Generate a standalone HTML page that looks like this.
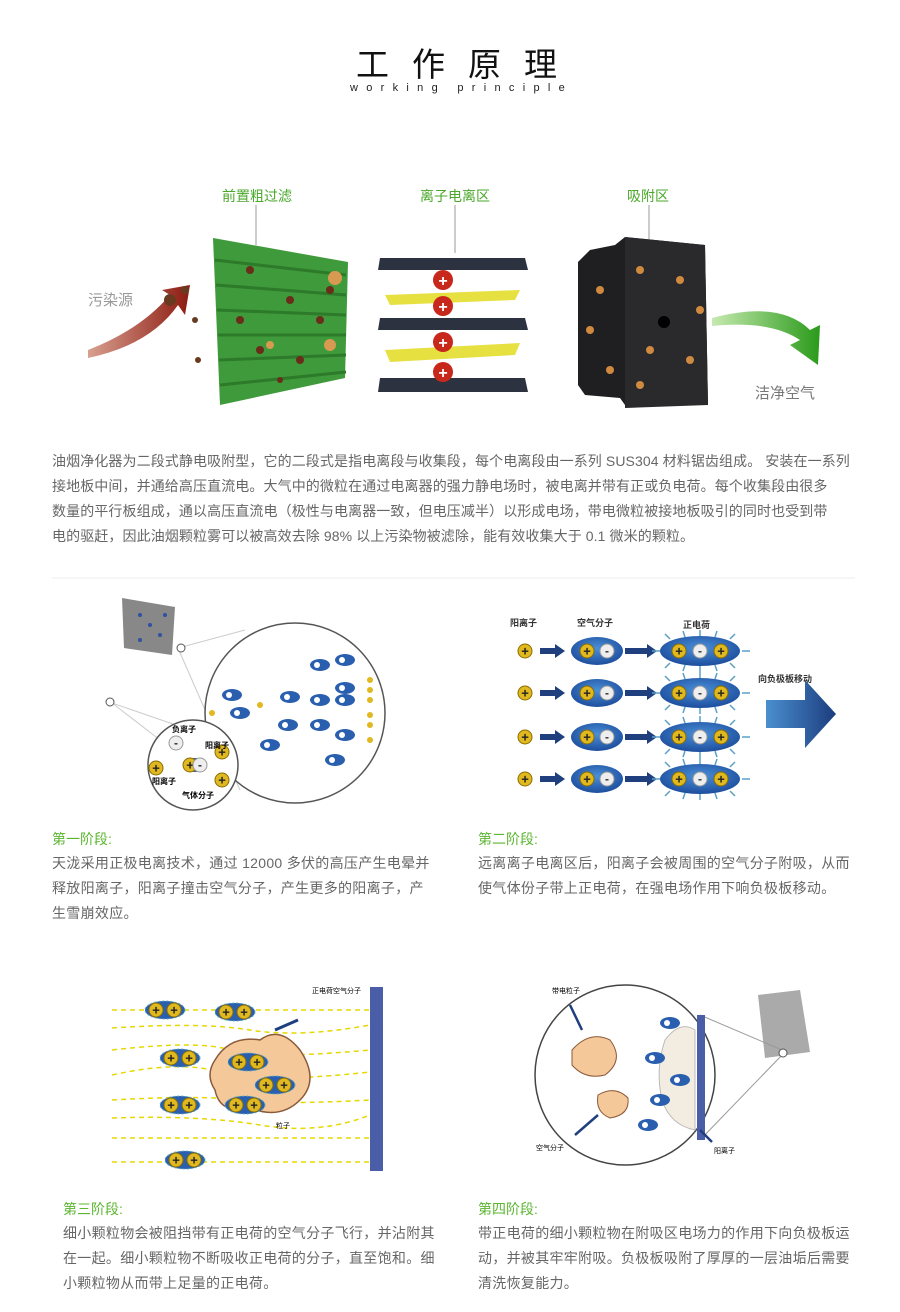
<!DOCTYPE html>
<html><head><meta charset="utf-8"><style>
body{margin:0;background:#fff;}
#w{position:relative;width:900px;height:1312px;overflow:hidden;font-family:"Liberation Sans","Noto Sans CJK SC",sans-serif;}
.t{position:absolute;white-space:nowrap;}
.p{position:absolute;color:#666;font-size:14px;line-height:25px;white-space:nowrap;letter-spacing:0.3px;}
.g{position:absolute;color:#5cb531;font-size:14px;}
svg{position:absolute;left:0;top:0;}
</style></head><body><div id="w">
<svg width="900" height="1312">
<defs>
<radialGradient id="bl" cx="50%" cy="40%" r="60%"><stop offset="0" stop-color="#4a8fd8"/><stop offset="1" stop-color="#1d4e9e"/></radialGradient>
<linearGradient id="ar" x1="0" x2="1"><stop offset="0" stop-color="#4a8fd0"/><stop offset="1" stop-color="#1c3d7e"/></linearGradient>
<linearGradient id="ga" x1="0" x2="1"><stop offset="0" stop-color="#c6eab0"/><stop offset="1" stop-color="#2a9a1a"/></linearGradient>
<linearGradient id="ra" x1="0" x2="1"><stop offset="0" stop-color="#d8a090"/><stop offset="1" stop-color="#8c1a10"/></linearGradient>
<g id="pl"><circle r="7" fill="#e0b820" stroke="#8a6d00"/><text y="4.5" text-anchor="middle" font-size="13" font-weight="bold" fill="#222">+</text></g>
<g id="mi"><circle r="7" fill="#eee" stroke="#999"/><text y="4" text-anchor="middle" font-size="12" font-weight="bold" fill="#333">-</text></g>
<g id="row">
<use href="#pl" x="525" y="0"/>
<path d="M540 -3h15v-4l10 7-10 7v-4h-15z" fill="#1f3f7f"/>
<ellipse cx="597" cy="0" rx="26" ry="14" fill="url(#bl)"/><use href="#pl" x="587" y="0"/><use href="#mi" x="607" y="0"/>
<path d="M625 -3h22v-4l10 7-10 7v-4h-22z" fill="#1f3f7f"/>
<g stroke="#5aa0c8" stroke-width="1.5"><path d="M660 0h-8M742 0h8M670 -12l-5-5M730 -12l5-5M670 12l-5 5M730 12l5 5M700 -15v-6M700 15v6M685 -14l-2-6M715 -14l2-6M685 14l-2 6M715 14l2 6"/></g>
<ellipse cx="700" cy="0" rx="40" ry="15" fill="url(#bl)"/><use href="#pl" x="679" y="0"/><use href="#mi" x="700" y="0"/><use href="#pl" x="721" y="0"/>
</g>
<g id="sm"><ellipse rx="10" ry="6" fill="#2a5fb0"/><circle cx="-3" r="3" fill="#fff"/></g>
<g id="cm"><ellipse rx="20" ry="9" fill="#2a5fb0" stroke="#6ab" stroke-dasharray="2 2"/><use href="#pl" x="-9"/><use href="#pl" x="9"/></g>
</defs>
<line x1="256" y1="205" x2="256" y2="245" stroke="#999"/>
<line x1="455" y1="205" x2="455" y2="253" stroke="#999"/>
<line x1="649" y1="205" x2="649" y2="240" stroke="#999"/>
<path d="M88 350 Q140 330 170 295 L162 290 L190 285 L185 315 L178 305 Q150 345 88 358Z" fill="url(#ra)"/>
<circle cx="170" cy="300" r="6" fill="#6a3a20"/><circle cx="185" cy="290" r="4" fill="#6a3a20"/><circle cx="195" cy="320" r="3" fill="#6a3a20"/><circle cx="198" cy="360" r="3" fill="#6a3a20"/>
<path d="M213 238 L348 262 L345 378 L220 405 Z" fill="#3e9a3a"/>
<g stroke="#2c7a2a" stroke-width="3"><path d="M215 260 L346 275M216 285 L346 295M217 310 L346 315M218 335 L346 335M219 360 L346 355M220 385 L346 372"/></g>
<g fill="#6b2c1a"><circle cx="250" cy="270" r="4"/><circle cx="290" cy="300" r="4"/><circle cx="320" cy="320" r="4"/><circle cx="260" cy="350" r="4"/><circle cx="300" cy="360" r="4"/><circle cx="330" cy="290" r="4"/><circle cx="240" cy="320" r="4"/><circle cx="280" cy="380" r="3"/></g>
<g fill="#d89a50"><circle cx="335" cy="278" r="7"/><circle cx="330" cy="345" r="6"/><circle cx="270" cy="345" r="4"/></g>
<path d="M380 258 L525 258 L528 270 L378 270Z" fill="#2d3240"/>
<path d="M380 318 L525 318 L528 330 L378 330Z" fill="#2d3240"/>
<path d="M380 378 L525 378 L528 392 L378 392Z" fill="#2d3240"/>
<path d="M385 295 L520 290 L515 300 L390 305Z" fill="#e6e040"/>
<path d="M385 350 L520 343 L515 355 L390 362Z" fill="#e6e040"/>
<g fill="#c8281c"><circle cx="443" cy="280" r="10"/><circle cx="443" cy="306" r="10"/><circle cx="443" cy="342" r="10"/><circle cx="443" cy="372" r="10"/></g>
<g fill="#fff" font-size="16" font-weight="bold" text-anchor="middle"><text x="443" y="286">+</text><text x="443" y="312">+</text><text x="443" y="348">+</text><text x="443" y="378">+</text></g>
<path d="M578 262 L590 250 L615 245 L625 237 L705 245 L708 405 L625 405 L620 398 L585 395 L578 385Z" fill="#1f1f22"/>
<path d="M625 237 L705 245 L708 405 L625 408Z" fill="#2a2a2d"/>
<circle cx="664" cy="322" r="6" fill="#000"/>
<g fill="#d08a40"><circle cx="640" cy="270" r="4"/><circle cx="680" cy="280" r="4"/><circle cx="650" cy="350" r="4"/><circle cx="690" cy="360" r="4"/><circle cx="600" cy="290" r="4"/><circle cx="590" cy="330" r="4"/><circle cx="610" cy="370" r="4"/><circle cx="700" cy="310" r="4"/><circle cx="640" cy="385" r="4"/></g>
<path d="M712 318 Q780 300 810 330 L820 325 L818 365 L790 345 L800 340 Q770 320 712 326Z" fill="url(#ga)"/>
<line x1="52" y1="578" x2="855" y2="578" stroke="#eee"/>
<path d="M122 598 L175 607 L172 655 L124 648Z" fill="#888"/>
<g fill="#3050a0"><circle cx="140" cy="615" r="2"/><circle cx="150" cy="625" r="2"/><circle cx="160" cy="635" r="2"/><circle cx="140" cy="640" r="2"/><circle cx="165" cy="615" r="2"/></g>
<path d="M178 648 L245 630 M178 648 L240 790" stroke="#ccc" fill="none"/>
<circle cx="295" cy="713" r="90" fill="#fff" stroke="#555" stroke-width="1.5"/>
<circle cx="181" cy="648" r="4" fill="#fff" stroke="#555"/>
<path d="M112 703 L160 740 M112 703 L205 735" stroke="#ccc"/>
<circle cx="110" cy="702" r="4" fill="#fff" stroke="#555"/>
<circle cx="193" cy="765" r="45" fill="#fff" stroke="#555" stroke-width="1.5"/>
<ellipse cx="195" cy="765" rx="12" ry="7" fill="#2a5fb0"/><use href="#pl" x="190" y="765"/><use href="#mi" x="200" y="765"/>
<use href="#mi" x="176" y="743"/><use href="#pl" x="156" y="768"/><use href="#pl" x="222" y="752"/><use href="#pl" x="222" y="780"/>
<g><use href="#sm" x="232" y="695"/><use href="#sm" x="240" y="713"/><use href="#sm" x="290" y="697"/><use href="#sm" x="288" y="725"/><use href="#sm" x="320" y="665"/><use href="#sm" x="345" y="660"/><use href="#sm" x="320" y="700"/><use href="#sm" x="320" y="725"/><use href="#sm" x="345" y="688"/><use href="#sm" x="345" y="700"/><use href="#sm" x="345" y="735"/><use href="#sm" x="335" y="760"/><use href="#sm" x="270" y="745"/></g>
<g fill="#e0b820"><circle cx="370" cy="680" r="3"/><circle cx="370" cy="690" r="3"/><circle cx="370" cy="700" r="3"/><circle cx="370" cy="715" r="3"/><circle cx="370" cy="725" r="3"/><circle cx="370" cy="740" r="3"/><circle cx="212" cy="713" r="3"/><circle cx="260" cy="705" r="3"/></g>
<use href="#row" y="651"/><use href="#row" y="693"/><use href="#row" y="737"/><use href="#row" y="779"/>
<path d="M766 700 H805 V680 L836 714 L805 748 V728 H766Z" fill="url(#ar)"/>
<g stroke="#e6d800" stroke-width="1.5" stroke-dasharray="5 4" fill="none">
<path d="M112 1010 H370"/><path d="M112 1028 Q200 1022 250 1030 T370 1025"/><path d="M112 1050 Q200 1040 230 1050 T370 1050"/><path d="M112 1075 Q180 1060 220 1072 T370 1072"/><path d="M112 1100 Q200 1095 240 1100 T370 1100"/><path d="M112 1118 Q200 1115 260 1125 T370 1115"/><path d="M112 1138 H370"/><path d="M112 1162 H370"/>
</g>
<rect x="370" y="987" width="13" height="184" fill="#4a5ea8"/>
<path d="M215 1060 Q230 1035 260 1040 Q280 1025 300 1050 Q320 1080 300 1100 Q280 1120 250 1108 Q220 1115 215 1090 Q205 1075 215 1060Z" fill="#f5c89a" stroke="#8a5a3a" stroke-width="1.5"/>
<use href="#cm" x="165" y="1010"/><use href="#cm" x="235" y="1012"/><use href="#cm" x="180" y="1058"/><use href="#cm" x="248" y="1062"/><use href="#cm" x="275" y="1085"/><use href="#cm" x="180" y="1105"/><use href="#cm" x="245" y="1105"/><use href="#cm" x="185" y="1160"/>
<path d="M275 1030 L298 1020" stroke="#1f3f7f" stroke-width="3"/>
<path d="M758 995 L800 990 L810 1052 L765 1058Z" fill="#aaa"/>
<path d="M700 1015 L782 1050 M700 1140 L782 1055" stroke="#999"/>
<circle cx="625" cy="1075" r="90" fill="#fff" stroke="#444" stroke-width="1.5"/>
<circle cx="783" cy="1053" r="4" fill="#fff" stroke="#555"/>
<rect x="697" y="1015" width="8" height="125" fill="#4a5ea8"/>
<path d="M665 1040 Q680 1020 695 1030 L695 1130 Q670 1125 662 1100 Q655 1070 665 1040Z" fill="#f3ece0" stroke="#bbb"/>
<path d="M572 1050 Q590 1030 610 1040 Q625 1060 605 1075 Q585 1080 572 1065Z" fill="#f5c89a" stroke="#8a5a3a"/>
<path d="M598 1095 Q615 1085 628 1098 Q630 1115 610 1118 Q595 1112 598 1095Z" fill="#f5c89a" stroke="#8a5a3a"/>
<use href="#sm" x="670" y="1023"/><use href="#sm" x="655" y="1058"/><use href="#sm" x="680" y="1080"/><use href="#sm" x="660" y="1100"/><use href="#sm" x="648" y="1125"/>
<path d="M570 1005 L582 1030 M575 1135 L598 1115 M700 1130 L712 1142" stroke="#1f3f7f" stroke-width="2.5"/>
</svg>
<div class="t" style="left:356px;top:38px;font-size:33px;letter-spacing:23px;color:#111;">工作原理</div>
<div class="t" style="left:350px;top:82px;font-size:11px;letter-spacing:8.3px;color:#222;">working principle</div>
<div class="t" style="left:222px;top:186px;font-size:14px;color:#4aa82a;">前置粗过滤</div>
<div class="t" style="left:420px;top:186px;font-size:14px;color:#4aa82a;">离子电离区</div>
<div class="t" style="left:627px;top:186px;font-size:14px;color:#4aa82a;">吸附区</div>
<div class="t" style="left:88px;top:289px;font-size:15px;color:#999;">污染源</div>
<div class="t" style="left:755px;top:382px;font-size:15px;color:#777;">洁净空气</div>
<div class="p" style="left:52px;top:449px;letter-spacing:0.1px;">油烟净化器为二段式静电吸附型，它的二段式是指电离段与收集段，每个电离段由一系列 SUS304 材料锯齿组成。 安装在一系列<br>接地板中间，并通给高压直流电。大气中的微粒在通过电离器的强力静电场时，被电离并带有正或负电荷。每个收集段由很多<br>数量的平行板组成，通以高压直流电（极性与电离器一致，但电压减半）以形成电场，带电微粒被接地板吸引的同时也受到带<br>电的驱赶，因此油烟颗粒雾可以被高效去除 98% 以上污染物被滤除，能有效收集大于 0.1 微米的颗粒。</div>
<div class="t" style="left:172px;top:724px;font-size:8px;font-weight:bold;">负离子</div>
<div class="t" style="left:205px;top:740px;font-size:8px;font-weight:bold;">阳离子</div>
<div class="t" style="left:152px;top:776px;font-size:8px;font-weight:bold;">阳离子</div>
<div class="t" style="left:182px;top:790px;font-size:8px;font-weight:bold;">气体分子</div>
<div class="t" style="left:510px;top:616px;font-size:9px;font-weight:bold;color:#333;">阳离子</div>
<div class="t" style="left:577px;top:616px;font-size:9px;font-weight:bold;color:#333;">空气分子</div>
<div class="t" style="left:683px;top:618px;font-size:9px;font-weight:bold;color:#333;">正电荷</div>
<div class="t" style="left:758px;top:672px;font-size:9px;font-weight:bold;color:#333;">向负极板移动</div>
<div class="g" style="left:52px;top:829px;">第一阶段:</div>
<div class="p" style="left:52px;top:851px;">天泷采用正极电离技术，通过 12000 多伏的高压产生电晕并<br>释放阳离子，阳离子撞击空气分子，产生更多的阳离子，产<br>生雪崩效应。</div>
<div class="g" style="left:478px;top:829px;">第二阶段:</div>
<div class="p" style="left:478px;top:851px;">远离离子电离区后，阳离子会被周围的空气分子附吸，从而<br>使气体份子带上正电荷，在强电场作用下响负极板移动。</div>
<div class="t" style="left:312px;top:986px;font-size:7px;">正电荷空气分子</div>
<div class="t" style="left:276px;top:1121px;font-size:7px;">粒子</div>
<div class="t" style="left:552px;top:986px;font-size:7px;">带电粒子</div>
<div class="t" style="left:536px;top:1143px;font-size:7px;">空气分子</div>
<div class="t" style="left:714px;top:1146px;font-size:7px;">阳离子</div>
<div class="g" style="left:63px;top:1199px;">第三阶段:</div>
<div class="p" style="left:63px;top:1221px;">细小颗粒物会被阻挡带有正电荷的空气分子飞行，并沾附其<br>在一起。细小颗粒物不断吸收正电荷的分子，直至饱和。细<br>小颗粒物从而带上足量的正电荷。</div>
<div class="g" style="left:478px;top:1199px;">第四阶段:</div>
<div class="p" style="left:478px;top:1221px;">带正电荷的细小颗粒物在附吸区电场力的作用下向负极板运<br>动，并被其牢牢附吸。负极板吸附了厚厚的一层油垢后需要<br>清洗恢复能力。</div>
</div></body></html>
